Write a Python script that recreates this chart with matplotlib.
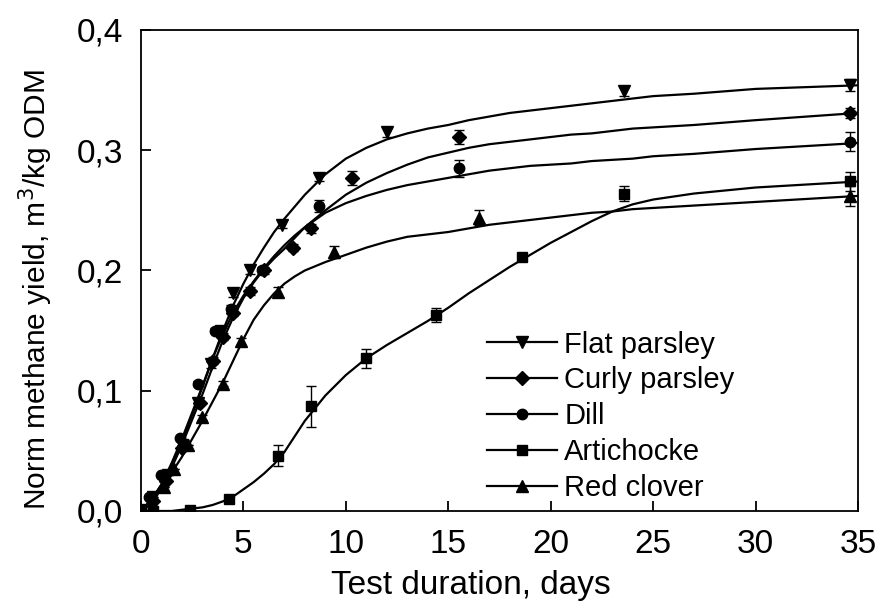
import matplotlib
matplotlib.use("Agg")
from matplotlib import pyplot as plt
from matplotlib.lines import Line2D

plt.rcParams['font.family'] = ['Liberation Sans', 'DejaVu Sans']

# measured points (days, m3/kg ODM) with error bars
flat_x = [0, 0.6, 1.3, 2.0, 2.8, 3.4, 3.9, 4.5, 5.3, 6.9, 8.7, 12.0, 23.6, 34.6]
flat_y = [0, 0.012, 0.030, 0.055, 0.090, 0.122, 0.150, 0.181, 0.200, 0.238, 0.277, 0.315, 0.349, 0.354]
flat_err = [0, 0, 0, 0, 0, 0.003, 0.003, 0.003, 0.003, 0.003, 0.003, 0.004, 0.004, 0.005]

curly_x = [0, 0.6, 1.2, 2.0, 2.9, 3.5, 4.0, 4.5, 5.3, 6.0, 7.4, 8.3, 10.3, 15.5, 34.6]
curly_y = [0, 0.008, 0.025, 0.052, 0.090, 0.125, 0.145, 0.165, 0.183, 0.200, 0.219, 0.235, 0.277, 0.311, 0.331]
curly_err = [0, 0, 0, 0, 0, 0.003, 0.003, 0.003, 0.003, 0.003, 0.003, 0.004, 0.006, 0.006, 0.004]

dill_x = [0, 0.4, 1.0, 1.9, 2.8, 3.6, 4.4, 5.9, 8.7, 15.5, 34.6]
dill_y = [0, 0.012, 0.030, 0.061, 0.106, 0.150, 0.168, 0.200, 0.254, 0.285, 0.307]
dill_err = [0, 0, 0, 0, 0.002, 0.002, 0.003, 0.003, 0.005, 0.007, 0.008]

arti_x = [0, 0.6, 2.4, 4.3, 6.7, 8.3, 11.0, 14.4, 18.6, 23.6, 34.6]
arti_y = [0.002, 0.0, 0.001, 0.010, 0.046, 0.087, 0.127, 0.163, 0.211, 0.264, 0.274]
arti_err = [0, 0, 0, 0.002, 0.009, 0.017, 0.008, 0.006, 0.002, 0.006, 0.008]

clover_x = [0, 0.5, 1.1, 1.6, 2.3, 3.0, 4.0, 4.9, 6.7, 9.4, 16.5, 34.6]
clover_y = [0, 0.008, 0.020, 0.035, 0.055, 0.078, 0.106, 0.141, 0.182, 0.215, 0.244, 0.262]
clover_err = [0, 0, 0, 0, 0, 0.002, 0.002, 0.003, 0.004, 0.005, 0.006, 0.008]

# fitted curves
curve_x = [0, 0.5, 1, 1.5, 2, 2.5, 3, 3.5, 4, 4.5, 5, 5.5, 6, 6.5, 7, 7.5, 8, 9, 10,
           11, 12, 13, 14, 15, 16, 17, 18, 19, 20, 21, 22, 23, 24, 25, 27, 30, 35]
flat_fit = [0, 0.009, 0.022, 0.039, 0.058, 0.080, 0.103, 0.127, 0.150, 0.171, 0.189, 0.205,
            0.219, 0.232, 0.243, 0.253, 0.263, 0.280, 0.293, 0.302, 0.309, 0.314, 0.318,
            0.321, 0.325, 0.328, 0.331, 0.333, 0.335, 0.337, 0.339, 0.341, 0.343, 0.345,
            0.347, 0.351, 0.354]
curly_fit = [0, 0.008, 0.020, 0.036, 0.055, 0.076, 0.097, 0.120, 0.142, 0.161, 0.177, 0.190,
             0.201, 0.210, 0.218, 0.227, 0.236, 0.250, 0.263, 0.273, 0.281, 0.288, 0.294,
             0.298, 0.302, 0.305, 0.307, 0.309, 0.311, 0.313, 0.314, 0.316, 0.318, 0.319,
             0.321, 0.325, 0.331]
dill_fit = [0, 0.009, 0.022, 0.040, 0.060, 0.082, 0.104, 0.127, 0.147, 0.165, 0.179, 0.191,
            0.202, 0.212, 0.221, 0.229, 0.236, 0.248, 0.256, 0.262, 0.267, 0.271, 0.274,
            0.277, 0.280, 0.283, 0.285, 0.287, 0.288, 0.289, 0.291, 0.292, 0.293, 0.295,
            0.297, 0.301, 0.306]
arti_fit = [0, 0, 0, 0, 0.001, 0.002, 0.003, 0.005, 0.008, 0.012, 0.018, 0.024, 0.031,
            0.039, 0.049, 0.062, 0.075, 0.096, 0.113, 0.127, 0.138, 0.148, 0.158, 0.169,
            0.181, 0.192, 0.203, 0.213, 0.223, 0.232, 0.241, 0.249, 0.255, 0.259, 0.264,
            0.269, 0.274]
clover_fit = [0, 0.009, 0.020, 0.032, 0.045, 0.060, 0.075, 0.091, 0.107, 0.125, 0.143, 0.159,
              0.171, 0.181, 0.189, 0.195, 0.200, 0.207, 0.213, 0.219, 0.224, 0.228, 0.230,
              0.232, 0.235, 0.238, 0.240, 0.242, 0.244, 0.246, 0.248, 0.249, 0.251, 0.252,
              0.254, 0.257, 0.262]

labels = ['Flat parsley', 'Curly parsley', 'Dill', 'Artichocke', 'Red clover']
markers = ['v', 'D', 'o', 's', '^']
sizes = [8, 7, 7.5, 6.5, 8]

series = [
    (flat_x, flat_y, flat_err, flat_fit),
    (curly_x, curly_y, curly_err, curly_fit),
    (dill_x, dill_y, dill_err, dill_fit),
    (arti_x, arti_y, arti_err, arti_fit),
    (clover_x, clover_y, clover_err, clover_fit),
]

fig = plt.figure(figsize=(8.79, 6.07), dpi=100)
ax = fig.add_axes([0.1604, 0.1582, 0.8157, 0.7924])

handles = []
for (xs, ys, err, fit), lab, m, ms in zip(series, labels, markers, sizes):
    ax.plot(curve_x, fit, color='black', lw=1.6, zorder=2)
    ax.errorbar(xs, ys, yerr=err, fmt=m, color='black', ms=ms, elinewidth=1,
                capsize=3.5, capthick=1, zorder=3)
    handles.append(Line2D([], [], color='black', lw=1.6, marker=m, ms=ms))

ax.set_xlim(0, 35)
ax.set_ylim(0, 0.4)
ax.set_xticks(range(0, 36, 5))
ax.set_yticks([0, 0.1, 0.2, 0.3, 0.4])
ax.set_yticklabels(['0,0', '0,1', '0,2', '0,3', '0,4'])
ax.tick_params(direction='in', length=7, width=1.3, labelsize=24)
ax.tick_params(axis='x', pad=13)
ax.tick_params(axis='y', pad=13)
for s in ax.spines.values():
    s.set_linewidth(1.3)

ax.set_xlabel('Test duration, days', fontsize=24)
ax.xaxis.set_label_coords(0.46, -0.122)
ax.set_ylabel('Norm methane yield, m$^3$/kg ODM', fontsize=21.5)
ax.yaxis.set_label_coords(-0.12, 0.46)

ax.legend(handles, labels, loc='upper left', bbox_to_anchor=(0.4826, 0.375),
          frameon=False, fontsize=21, handlelength=2.4, handletextpad=0.25,
          labelspacing=0.27, borderpad=0, borderaxespad=0)

fig.savefig('out.png', dpi=100)
